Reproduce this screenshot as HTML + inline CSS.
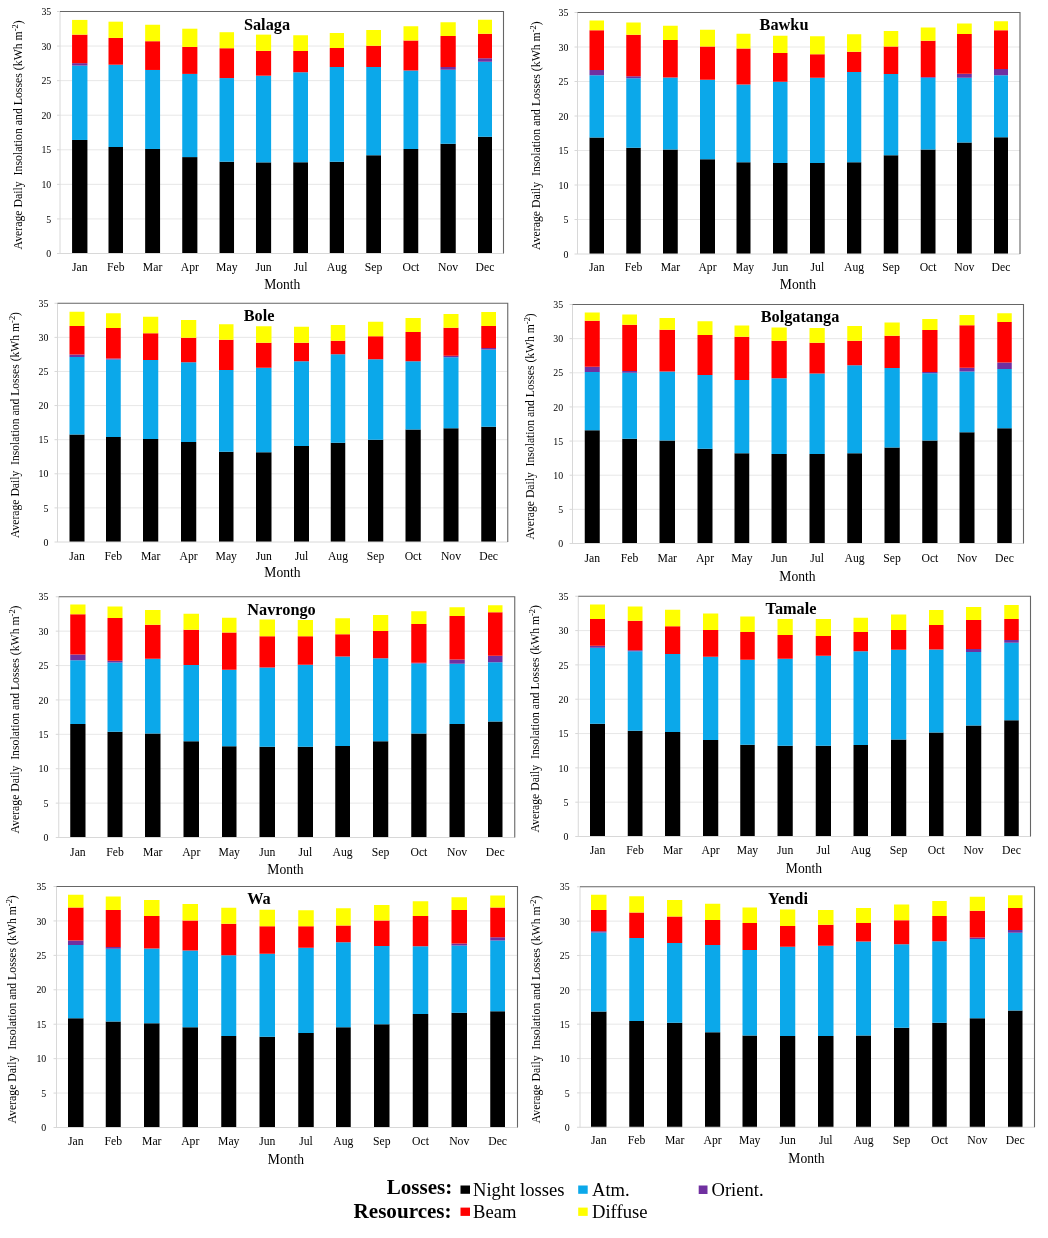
<!DOCTYPE html>
<html lang="en"><head><meta charset="utf-8"><title>Average Daily Insolation and Losses</title>
<style>
html,body{margin:0;padding:0;background:#fff}
body{width:1048px;height:1238px;overflow:hidden;font-family:"Liberation Serif","Times New Roman",serif}
svg{display:block}
</style></head><body>
<svg width="1048" height="1238" viewBox="0 0 1048 1238" font-family="'Liberation Serif', 'Times New Roman', serif" fill="#000">
<rect width="1048" height="1238" fill="#fff"/>
<g>
<line x1="60" y1="218.93" x2="503.5" y2="218.93" stroke="#E4E4E4" stroke-width="0.9"/>
<line x1="60" y1="184.36" x2="503.5" y2="184.36" stroke="#E4E4E4" stroke-width="0.9"/>
<line x1="60" y1="149.79" x2="503.5" y2="149.79" stroke="#E4E4E4" stroke-width="0.9"/>
<line x1="60" y1="115.21" x2="503.5" y2="115.21" stroke="#E4E4E4" stroke-width="0.9"/>
<line x1="60" y1="80.64" x2="503.5" y2="80.64" stroke="#E4E4E4" stroke-width="0.9"/>
<line x1="60" y1="46.07" x2="503.5" y2="46.07" stroke="#E4E4E4" stroke-width="0.9"/>
<rect x="72.07" y="139.97" width="15.36" height="113.53" fill="#000000"/>
<rect x="72.07" y="65.57" width="15.36" height="74.4" fill="#0BA8EA"/>
<rect x="72.07" y="63.16" width="15.36" height="2.41" fill="#7030A0"/>
<rect x="72.07" y="34.63" width="15.36" height="28.53" fill="#FF0000"/>
<rect x="72.07" y="19.92" width="15.36" height="14.7" fill="#FFFF00"/>
<rect x="108.5" y="146.99" width="14.48" height="106.51" fill="#000000"/>
<rect x="108.5" y="64.69" width="14.48" height="82.3" fill="#0BA8EA"/>
<rect x="108.5" y="37.92" width="14.48" height="26.77" fill="#FF0000"/>
<rect x="108.5" y="21.68" width="14.48" height="16.24" fill="#FFFF00"/>
<rect x="145.15" y="148.97" width="14.92" height="104.53" fill="#000000"/>
<rect x="145.15" y="69.96" width="14.92" height="79.01" fill="#0BA8EA"/>
<rect x="145.15" y="41.21" width="14.92" height="28.75" fill="#FF0000"/>
<rect x="145.15" y="24.75" width="14.92" height="16.46" fill="#FFFF00"/>
<rect x="182.24" y="157.09" width="15.14" height="96.41" fill="#000000"/>
<rect x="182.24" y="73.91" width="15.14" height="83.18" fill="#0BA8EA"/>
<rect x="182.24" y="46.92" width="15.14" height="26.99" fill="#FF0000"/>
<rect x="182.24" y="28.7" width="15.14" height="18.22" fill="#FFFF00"/>
<rect x="219.55" y="161.7" width="14.48" height="91.8" fill="#000000"/>
<rect x="219.55" y="78.08" width="14.48" height="83.62" fill="#0BA8EA"/>
<rect x="219.55" y="48.23" width="14.48" height="29.85" fill="#FF0000"/>
<rect x="219.55" y="32.21" width="14.48" height="16.02" fill="#FFFF00"/>
<rect x="255.98" y="162.36" width="15.14" height="91.14" fill="#000000"/>
<rect x="255.98" y="75.67" width="15.14" height="86.69" fill="#0BA8EA"/>
<rect x="255.98" y="50.87" width="15.14" height="24.8" fill="#FF0000"/>
<rect x="255.98" y="34.63" width="15.14" height="16.24" fill="#FFFF00"/>
<rect x="293.25" y="162.25" width="14.75" height="91.25" fill="#000000"/>
<rect x="293.25" y="72.25" width="14.75" height="90" fill="#0BA8EA"/>
<rect x="293.25" y="51" width="14.75" height="21.25" fill="#FF0000"/>
<rect x="293.25" y="35.25" width="14.75" height="15.75" fill="#FFFF00"/>
<rect x="329.75" y="161.75" width="14.25" height="91.75" fill="#000000"/>
<rect x="329.75" y="67" width="14.25" height="94.75" fill="#0BA8EA"/>
<rect x="329.75" y="48" width="14.25" height="19" fill="#FF0000"/>
<rect x="329.75" y="33" width="14.25" height="15" fill="#FFFF00"/>
<rect x="366.25" y="155.25" width="14.75" height="98.25" fill="#000000"/>
<rect x="366.25" y="67" width="14.75" height="88.25" fill="#0BA8EA"/>
<rect x="366.25" y="45.75" width="14.75" height="21.25" fill="#FF0000"/>
<rect x="366.25" y="30" width="14.75" height="15.75" fill="#FFFF00"/>
<rect x="403.5" y="149" width="14.75" height="104.5" fill="#000000"/>
<rect x="403.5" y="70.5" width="14.75" height="78.5" fill="#0BA8EA"/>
<rect x="403.5" y="40.5" width="14.75" height="30" fill="#FF0000"/>
<rect x="403.5" y="26.25" width="14.75" height="14.25" fill="#FFFF00"/>
<rect x="440.5" y="143.75" width="15.25" height="109.75" fill="#000000"/>
<rect x="440.5" y="69.75" width="15.25" height="74" fill="#0BA8EA"/>
<rect x="440.5" y="67" width="15.25" height="2.75" fill="#7030A0"/>
<rect x="440.5" y="36" width="15.25" height="31" fill="#FF0000"/>
<rect x="440.5" y="22.25" width="15.25" height="13.75" fill="#FFFF00"/>
<rect x="478" y="136.75" width="14" height="116.75" fill="#000000"/>
<rect x="478" y="61.75" width="14" height="75" fill="#0BA8EA"/>
<rect x="478" y="58.25" width="14" height="3.5" fill="#7030A0"/>
<rect x="478" y="33.75" width="14" height="24.5" fill="#FF0000"/>
<rect x="478" y="19.75" width="14" height="14" fill="#FFFF00"/>
<line x1="57" y1="253.5" x2="503.5" y2="253.5" stroke="#D8D8D8" stroke-width="1"/>
<line x1="60" y1="11.5" x2="60" y2="253.5" stroke="#D8D8D8" stroke-width="1"/>
<line x1="57" y1="218.93" x2="60" y2="218.93" stroke="#D8D8D8" stroke-width="1"/>
<line x1="57" y1="184.36" x2="60" y2="184.36" stroke="#D8D8D8" stroke-width="1"/>
<line x1="57" y1="149.79" x2="60" y2="149.79" stroke="#D8D8D8" stroke-width="1"/>
<line x1="57" y1="115.21" x2="60" y2="115.21" stroke="#D8D8D8" stroke-width="1"/>
<line x1="57" y1="80.64" x2="60" y2="80.64" stroke="#D8D8D8" stroke-width="1"/>
<line x1="57" y1="46.07" x2="60" y2="46.07" stroke="#D8D8D8" stroke-width="1"/>
<line x1="57" y1="11.5" x2="60" y2="11.5" stroke="#D8D8D8" stroke-width="1"/>
<path d="M60 11.5H503.5V253.5" fill="none" stroke="#666666" stroke-width="1.1"/>
<text x="51.3" y="257.2" font-size="9.9" text-anchor="end">0</text>
<text x="51.3" y="222.63" font-size="9.9" text-anchor="end">5</text>
<text x="51.3" y="188.06" font-size="9.9" text-anchor="end">10</text>
<text x="51.3" y="153.49" font-size="9.9" text-anchor="end">15</text>
<text x="51.3" y="118.91" font-size="9.9" text-anchor="end">20</text>
<text x="51.3" y="84.34" font-size="9.9" text-anchor="end">25</text>
<text x="51.3" y="49.77" font-size="9.9" text-anchor="end">30</text>
<text x="51.3" y="15.2" font-size="9.9" text-anchor="end">35</text>
<text x="79.75" y="271" font-size="11.7" text-anchor="middle">Jan</text>
<text x="115.74" y="271" font-size="11.7" text-anchor="middle">Feb</text>
<text x="152.61" y="271" font-size="11.7" text-anchor="middle">Mar</text>
<text x="189.81" y="271" font-size="11.7" text-anchor="middle">Apr</text>
<text x="226.79" y="271" font-size="11.7" text-anchor="middle">May</text>
<text x="263.55" y="271" font-size="11.7" text-anchor="middle">Jun</text>
<text x="300.62" y="271" font-size="11.7" text-anchor="middle">Jul</text>
<text x="336.88" y="271" font-size="11.7" text-anchor="middle">Aug</text>
<text x="373.62" y="271" font-size="11.7" text-anchor="middle">Sep</text>
<text x="410.88" y="271" font-size="11.7" text-anchor="middle">Oct</text>
<text x="448.12" y="271" font-size="11.7" text-anchor="middle">Nov</text>
<text x="485" y="271" font-size="11.7" text-anchor="middle">Dec</text>
<text x="282.3" y="289.1" font-size="13.6" text-anchor="middle">Month</text>
<text x="267" y="29.5" font-size="16.3" font-weight="bold" text-anchor="middle">Salaga</text>
<text transform="translate(22 134.9) rotate(-90)" font-size="11.8" text-anchor="middle" xml:space="preserve">Average Daily  Insolation and Losses (kWh m<tspan font-size="8.4" dy="-4">-2</tspan><tspan dy="4">)</tspan></text>
</g>
<g>
<line x1="577.5" y1="219.5" x2="1020" y2="219.5" stroke="#E4E4E4" stroke-width="0.9"/>
<line x1="577.5" y1="185" x2="1020" y2="185" stroke="#E4E4E4" stroke-width="0.9"/>
<line x1="577.5" y1="150.5" x2="1020" y2="150.5" stroke="#E4E4E4" stroke-width="0.9"/>
<line x1="577.5" y1="116" x2="1020" y2="116" stroke="#E4E4E4" stroke-width="0.9"/>
<line x1="577.5" y1="81.5" x2="1020" y2="81.5" stroke="#E4E4E4" stroke-width="0.9"/>
<line x1="577.5" y1="47" x2="1020" y2="47" stroke="#E4E4E4" stroke-width="0.9"/>
<rect x="589.5" y="137.5" width="14.5" height="116.5" fill="#000000"/>
<rect x="589.5" y="75.25" width="14.5" height="62.25" fill="#0BA8EA"/>
<rect x="589.5" y="70" width="14.5" height="5.25" fill="#7030A0"/>
<rect x="589.5" y="30.25" width="14.5" height="39.75" fill="#FF0000"/>
<rect x="589.5" y="20.5" width="14.5" height="9.75" fill="#FFFF00"/>
<rect x="626.25" y="147.75" width="14.5" height="106.25" fill="#000000"/>
<rect x="626.25" y="78.25" width="14.5" height="69.5" fill="#0BA8EA"/>
<rect x="626.25" y="76.25" width="14.5" height="2" fill="#7030A0"/>
<rect x="626.25" y="34.75" width="14.5" height="41.5" fill="#FF0000"/>
<rect x="626.25" y="22.5" width="14.5" height="12.25" fill="#FFFF00"/>
<rect x="663" y="149.5" width="14.75" height="104.5" fill="#000000"/>
<rect x="663" y="77.5" width="14.75" height="72" fill="#0BA8EA"/>
<rect x="663" y="40" width="14.75" height="37.5" fill="#FF0000"/>
<rect x="663" y="25.75" width="14.75" height="14.25" fill="#FFFF00"/>
<rect x="700" y="159.25" width="15" height="94.75" fill="#000000"/>
<rect x="700" y="79.75" width="15" height="79.5" fill="#0BA8EA"/>
<rect x="700" y="46.5" width="15" height="33.25" fill="#FF0000"/>
<rect x="700" y="29.75" width="15" height="16.75" fill="#FFFF00"/>
<rect x="736.5" y="162.25" width="14" height="91.75" fill="#000000"/>
<rect x="736.5" y="84.5" width="14" height="77.75" fill="#0BA8EA"/>
<rect x="736.5" y="48.5" width="14" height="36" fill="#FF0000"/>
<rect x="736.5" y="33.75" width="14" height="14.75" fill="#FFFF00"/>
<rect x="773" y="163" width="14.5" height="91" fill="#000000"/>
<rect x="773" y="81.75" width="14.5" height="81.25" fill="#0BA8EA"/>
<rect x="773" y="53" width="14.5" height="28.75" fill="#FF0000"/>
<rect x="773" y="35.75" width="14.5" height="17.25" fill="#FFFF00"/>
<rect x="810" y="163" width="14.75" height="91" fill="#000000"/>
<rect x="810" y="77.75" width="14.75" height="85.25" fill="#0BA8EA"/>
<rect x="810" y="54.25" width="14.75" height="23.5" fill="#FF0000"/>
<rect x="810" y="36.25" width="14.75" height="18" fill="#FFFF00"/>
<rect x="847" y="162.25" width="14.25" height="91.75" fill="#000000"/>
<rect x="847" y="72" width="14.25" height="90.25" fill="#0BA8EA"/>
<rect x="847" y="51.75" width="14.25" height="20.25" fill="#FF0000"/>
<rect x="847" y="34.25" width="14.25" height="17.5" fill="#FFFF00"/>
<rect x="883.75" y="155.25" width="14.5" height="98.75" fill="#000000"/>
<rect x="883.75" y="74" width="14.5" height="81.25" fill="#0BA8EA"/>
<rect x="883.75" y="46.5" width="14.5" height="27.5" fill="#FF0000"/>
<rect x="883.75" y="31" width="14.5" height="15.5" fill="#FFFF00"/>
<rect x="920.75" y="149.5" width="14.75" height="104.5" fill="#000000"/>
<rect x="920.75" y="77.75" width="14.75" height="71.75" fill="#0BA8EA"/>
<rect x="920.75" y="77" width="14.75" height="0.75" fill="#7030A0"/>
<rect x="920.75" y="40.75" width="14.75" height="36.25" fill="#FF0000"/>
<rect x="920.75" y="27.5" width="14.75" height="13.25" fill="#FFFF00"/>
<rect x="957" y="142.5" width="14.75" height="111.5" fill="#000000"/>
<rect x="957" y="77.75" width="14.75" height="64.75" fill="#0BA8EA"/>
<rect x="957" y="73.75" width="14.75" height="4" fill="#7030A0"/>
<rect x="957" y="34" width="14.75" height="39.75" fill="#FF0000"/>
<rect x="957" y="23.5" width="14.75" height="10.5" fill="#FFFF00"/>
<rect x="994" y="137.25" width="14" height="116.75" fill="#000000"/>
<rect x="994" y="75.25" width="14" height="62" fill="#0BA8EA"/>
<rect x="994" y="69" width="14" height="6.25" fill="#7030A0"/>
<rect x="994" y="30.25" width="14" height="38.75" fill="#FF0000"/>
<rect x="994" y="21.25" width="14" height="9" fill="#FFFF00"/>
<line x1="574.5" y1="254" x2="1020" y2="254" stroke="#D8D8D8" stroke-width="1"/>
<line x1="577.5" y1="12.5" x2="577.5" y2="254" stroke="#D8D8D8" stroke-width="1"/>
<line x1="574.5" y1="219.5" x2="577.5" y2="219.5" stroke="#D8D8D8" stroke-width="1"/>
<line x1="574.5" y1="185" x2="577.5" y2="185" stroke="#D8D8D8" stroke-width="1"/>
<line x1="574.5" y1="150.5" x2="577.5" y2="150.5" stroke="#D8D8D8" stroke-width="1"/>
<line x1="574.5" y1="116" x2="577.5" y2="116" stroke="#D8D8D8" stroke-width="1"/>
<line x1="574.5" y1="81.5" x2="577.5" y2="81.5" stroke="#D8D8D8" stroke-width="1"/>
<line x1="574.5" y1="47" x2="577.5" y2="47" stroke="#D8D8D8" stroke-width="1"/>
<line x1="574.5" y1="12.5" x2="577.5" y2="12.5" stroke="#D8D8D8" stroke-width="1"/>
<path d="M577.5 12.5H1020V254" fill="none" stroke="#666666" stroke-width="1.1"/>
<text x="568.4" y="257.7" font-size="9.9" text-anchor="end">0</text>
<text x="568.4" y="223.2" font-size="9.9" text-anchor="end">5</text>
<text x="568.4" y="188.7" font-size="9.9" text-anchor="end">10</text>
<text x="568.4" y="154.2" font-size="9.9" text-anchor="end">15</text>
<text x="568.4" y="119.7" font-size="9.9" text-anchor="end">20</text>
<text x="568.4" y="85.2" font-size="9.9" text-anchor="end">25</text>
<text x="568.4" y="50.7" font-size="9.9" text-anchor="end">30</text>
<text x="568.4" y="16.2" font-size="9.9" text-anchor="end">35</text>
<text x="596.75" y="271" font-size="11.7" text-anchor="middle">Jan</text>
<text x="633.5" y="271" font-size="11.7" text-anchor="middle">Feb</text>
<text x="670.38" y="271" font-size="11.7" text-anchor="middle">Mar</text>
<text x="707.5" y="271" font-size="11.7" text-anchor="middle">Apr</text>
<text x="743.5" y="271" font-size="11.7" text-anchor="middle">May</text>
<text x="780.25" y="271" font-size="11.7" text-anchor="middle">Jun</text>
<text x="817.38" y="271" font-size="11.7" text-anchor="middle">Jul</text>
<text x="854.12" y="271" font-size="11.7" text-anchor="middle">Aug</text>
<text x="891" y="271" font-size="11.7" text-anchor="middle">Sep</text>
<text x="928.12" y="271" font-size="11.7" text-anchor="middle">Oct</text>
<text x="964.38" y="271" font-size="11.7" text-anchor="middle">Nov</text>
<text x="1001" y="271" font-size="11.7" text-anchor="middle">Dec</text>
<text x="798" y="289.1" font-size="13.6" text-anchor="middle">Month</text>
<text x="784" y="30" font-size="16.3" font-weight="bold" text-anchor="middle">Bawku</text>
<text transform="translate(539.5 135.65) rotate(-90)" font-size="11.78" text-anchor="middle" xml:space="preserve">Average Daily  Insolation and Losses (kWh m<tspan font-size="8.4" dy="-4">-2</tspan><tspan dy="4">)</tspan></text>
</g>
<g>
<line x1="57.5" y1="507.89" x2="507.75" y2="507.89" stroke="#E4E4E4" stroke-width="0.9"/>
<line x1="57.5" y1="473.79" x2="507.75" y2="473.79" stroke="#E4E4E4" stroke-width="0.9"/>
<line x1="57.5" y1="439.68" x2="507.75" y2="439.68" stroke="#E4E4E4" stroke-width="0.9"/>
<line x1="57.5" y1="405.57" x2="507.75" y2="405.57" stroke="#E4E4E4" stroke-width="0.9"/>
<line x1="57.5" y1="371.46" x2="507.75" y2="371.46" stroke="#E4E4E4" stroke-width="0.9"/>
<line x1="57.5" y1="337.36" x2="507.75" y2="337.36" stroke="#E4E4E4" stroke-width="0.9"/>
<rect x="69.5" y="434.5" width="15" height="107.5" fill="#000000"/>
<rect x="69.5" y="357" width="15" height="77.5" fill="#0BA8EA"/>
<rect x="69.5" y="354.5" width="15" height="2.5" fill="#7030A0"/>
<rect x="69.5" y="326" width="15" height="28.5" fill="#FF0000"/>
<rect x="69.5" y="311.75" width="15" height="14.25" fill="#FFFF00"/>
<rect x="106" y="437" width="14.75" height="105" fill="#000000"/>
<rect x="106" y="359.5" width="14.75" height="77.5" fill="#0BA8EA"/>
<rect x="106" y="358.5" width="14.75" height="1" fill="#7030A0"/>
<rect x="106" y="328" width="14.75" height="30.5" fill="#FF0000"/>
<rect x="106" y="313.25" width="14.75" height="14.75" fill="#FFFF00"/>
<rect x="143" y="439" width="15.25" height="103" fill="#000000"/>
<rect x="143" y="360" width="15.25" height="79" fill="#0BA8EA"/>
<rect x="143" y="333.25" width="15.25" height="26.75" fill="#FF0000"/>
<rect x="143" y="316.75" width="15.25" height="16.5" fill="#FFFF00"/>
<rect x="181" y="442" width="15.25" height="100" fill="#000000"/>
<rect x="181" y="362.25" width="15.25" height="79.75" fill="#0BA8EA"/>
<rect x="181" y="337.75" width="15.25" height="24.5" fill="#FF0000"/>
<rect x="181" y="320" width="15.25" height="17.75" fill="#FFFF00"/>
<rect x="219" y="451.75" width="14.5" height="90.25" fill="#000000"/>
<rect x="219" y="370" width="14.5" height="81.75" fill="#0BA8EA"/>
<rect x="219" y="339.75" width="14.5" height="30.25" fill="#FF0000"/>
<rect x="219" y="324.25" width="14.5" height="15.5" fill="#FFFF00"/>
<rect x="256" y="452.25" width="15.5" height="89.75" fill="#000000"/>
<rect x="256" y="367.75" width="15.5" height="84.5" fill="#0BA8EA"/>
<rect x="256" y="342.75" width="15.5" height="25" fill="#FF0000"/>
<rect x="256" y="326.25" width="15.5" height="16.5" fill="#FFFF00"/>
<rect x="294" y="446" width="15" height="96" fill="#000000"/>
<rect x="294" y="361.25" width="15" height="84.75" fill="#0BA8EA"/>
<rect x="294" y="342.75" width="15" height="18.5" fill="#FF0000"/>
<rect x="294" y="326.75" width="15" height="16" fill="#FFFF00"/>
<rect x="330.75" y="442.75" width="14.5" height="99.25" fill="#000000"/>
<rect x="330.75" y="354.25" width="14.5" height="88.5" fill="#0BA8EA"/>
<rect x="330.75" y="340.75" width="14.5" height="13.5" fill="#FF0000"/>
<rect x="330.75" y="325" width="14.5" height="15.75" fill="#FFFF00"/>
<rect x="368" y="439.75" width="15.25" height="102.25" fill="#000000"/>
<rect x="368" y="359.25" width="15.25" height="80.5" fill="#0BA8EA"/>
<rect x="368" y="336.25" width="15.25" height="23" fill="#FF0000"/>
<rect x="368" y="321.75" width="15.25" height="14.5" fill="#FFFF00"/>
<rect x="405.5" y="429.5" width="15.25" height="112.5" fill="#000000"/>
<rect x="405.5" y="361.25" width="15.25" height="68.25" fill="#0BA8EA"/>
<rect x="405.5" y="332" width="15.25" height="29.25" fill="#FF0000"/>
<rect x="405.5" y="318" width="15.25" height="14" fill="#FFFF00"/>
<rect x="443.5" y="428.25" width="15" height="113.75" fill="#000000"/>
<rect x="443.5" y="357.25" width="15" height="71" fill="#0BA8EA"/>
<rect x="443.5" y="355.75" width="15" height="1.5" fill="#7030A0"/>
<rect x="443.5" y="327.75" width="15" height="28" fill="#FF0000"/>
<rect x="443.5" y="314" width="15" height="13.75" fill="#FFFF00"/>
<rect x="481.25" y="426.75" width="14.75" height="115.25" fill="#000000"/>
<rect x="481.25" y="349.5" width="14.75" height="77.25" fill="#0BA8EA"/>
<rect x="481.25" y="348" width="14.75" height="1.5" fill="#7030A0"/>
<rect x="481.25" y="326" width="14.75" height="22" fill="#FF0000"/>
<rect x="481.25" y="312" width="14.75" height="14" fill="#FFFF00"/>
<line x1="54.5" y1="542" x2="507.75" y2="542" stroke="#D8D8D8" stroke-width="1"/>
<line x1="57.5" y1="303.25" x2="57.5" y2="542" stroke="#D8D8D8" stroke-width="1"/>
<line x1="54.5" y1="507.89" x2="57.5" y2="507.89" stroke="#D8D8D8" stroke-width="1"/>
<line x1="54.5" y1="473.79" x2="57.5" y2="473.79" stroke="#D8D8D8" stroke-width="1"/>
<line x1="54.5" y1="439.68" x2="57.5" y2="439.68" stroke="#D8D8D8" stroke-width="1"/>
<line x1="54.5" y1="405.57" x2="57.5" y2="405.57" stroke="#D8D8D8" stroke-width="1"/>
<line x1="54.5" y1="371.46" x2="57.5" y2="371.46" stroke="#D8D8D8" stroke-width="1"/>
<line x1="54.5" y1="337.36" x2="57.5" y2="337.36" stroke="#D8D8D8" stroke-width="1"/>
<line x1="54.5" y1="303.25" x2="57.5" y2="303.25" stroke="#D8D8D8" stroke-width="1"/>
<path d="M57.5 303.25H507.75V542" fill="none" stroke="#666666" stroke-width="1.1"/>
<text x="48.4" y="545.7" font-size="9.9" text-anchor="end">0</text>
<text x="48.4" y="511.59" font-size="9.9" text-anchor="end">5</text>
<text x="48.4" y="477.49" font-size="9.9" text-anchor="end">10</text>
<text x="48.4" y="443.38" font-size="9.9" text-anchor="end">15</text>
<text x="48.4" y="409.27" font-size="9.9" text-anchor="end">20</text>
<text x="48.4" y="375.16" font-size="9.9" text-anchor="end">25</text>
<text x="48.4" y="341.06" font-size="9.9" text-anchor="end">30</text>
<text x="48.4" y="306.95" font-size="9.9" text-anchor="end">35</text>
<text x="77" y="560" font-size="11.7" text-anchor="middle">Jan</text>
<text x="113.38" y="560" font-size="11.7" text-anchor="middle">Feb</text>
<text x="150.62" y="560" font-size="11.7" text-anchor="middle">Mar</text>
<text x="188.62" y="560" font-size="11.7" text-anchor="middle">Apr</text>
<text x="226.25" y="560" font-size="11.7" text-anchor="middle">May</text>
<text x="263.75" y="560" font-size="11.7" text-anchor="middle">Jun</text>
<text x="301.5" y="560" font-size="11.7" text-anchor="middle">Jul</text>
<text x="338" y="560" font-size="11.7" text-anchor="middle">Aug</text>
<text x="375.62" y="560" font-size="11.7" text-anchor="middle">Sep</text>
<text x="413.12" y="560" font-size="11.7" text-anchor="middle">Oct</text>
<text x="451" y="560" font-size="11.7" text-anchor="middle">Nov</text>
<text x="488.62" y="560" font-size="11.7" text-anchor="middle">Dec</text>
<text x="282.5" y="576.6" font-size="13.6" text-anchor="middle">Month</text>
<text x="259" y="321" font-size="16.3" font-weight="bold" text-anchor="middle">Bole</text>
<text transform="translate(18.5 425.02) rotate(-90)" font-size="11.64" text-anchor="middle" xml:space="preserve">Average Daily  Insolation and Losses (kWh m<tspan font-size="8.4" dy="-4">-2</tspan><tspan dy="4">)</tspan></text>
</g>
<g>
<line x1="572.5" y1="509.36" x2="1023.5" y2="509.36" stroke="#E4E4E4" stroke-width="0.9"/>
<line x1="572.5" y1="475.21" x2="1023.5" y2="475.21" stroke="#E4E4E4" stroke-width="0.9"/>
<line x1="572.5" y1="441.07" x2="1023.5" y2="441.07" stroke="#E4E4E4" stroke-width="0.9"/>
<line x1="572.5" y1="406.93" x2="1023.5" y2="406.93" stroke="#E4E4E4" stroke-width="0.9"/>
<line x1="572.5" y1="372.79" x2="1023.5" y2="372.79" stroke="#E4E4E4" stroke-width="0.9"/>
<line x1="572.5" y1="338.64" x2="1023.5" y2="338.64" stroke="#E4E4E4" stroke-width="0.9"/>
<rect x="584.75" y="430.25" width="15" height="113.25" fill="#000000"/>
<rect x="584.75" y="372" width="15" height="58.25" fill="#0BA8EA"/>
<rect x="584.75" y="366.75" width="15" height="5.25" fill="#7030A0"/>
<rect x="584.75" y="320.75" width="15" height="46" fill="#FF0000"/>
<rect x="584.75" y="312.5" width="15" height="8.25" fill="#FFFF00"/>
<rect x="622.25" y="438.75" width="14.75" height="104.75" fill="#000000"/>
<rect x="622.25" y="372.75" width="14.75" height="66" fill="#0BA8EA"/>
<rect x="622.25" y="371" width="14.75" height="1.75" fill="#7030A0"/>
<rect x="622.25" y="324.75" width="14.75" height="46.25" fill="#FF0000"/>
<rect x="622.25" y="314.5" width="14.75" height="10.25" fill="#FFFF00"/>
<rect x="659.5" y="440.5" width="15.5" height="103" fill="#000000"/>
<rect x="659.5" y="371.5" width="15.5" height="69" fill="#0BA8EA"/>
<rect x="659.5" y="329.75" width="15.5" height="41.75" fill="#FF0000"/>
<rect x="659.5" y="318" width="15.5" height="11.75" fill="#FFFF00"/>
<rect x="697.5" y="448.75" width="15" height="94.75" fill="#000000"/>
<rect x="697.5" y="375" width="15" height="73.75" fill="#0BA8EA"/>
<rect x="697.5" y="335" width="15" height="40" fill="#FF0000"/>
<rect x="697.5" y="321.25" width="15" height="13.75" fill="#FFFF00"/>
<rect x="734.5" y="453.25" width="14.75" height="90.25" fill="#000000"/>
<rect x="734.5" y="380" width="14.75" height="73.25" fill="#0BA8EA"/>
<rect x="734.5" y="336.75" width="14.75" height="43.25" fill="#FF0000"/>
<rect x="734.5" y="325.5" width="14.75" height="11.25" fill="#FFFF00"/>
<rect x="771.5" y="454" width="15.25" height="89.5" fill="#000000"/>
<rect x="771.5" y="378.25" width="15.25" height="75.75" fill="#0BA8EA"/>
<rect x="771.5" y="340.75" width="15.25" height="37.5" fill="#FF0000"/>
<rect x="771.5" y="327.5" width="15.25" height="13.25" fill="#FFFF00"/>
<rect x="809.5" y="454" width="15.25" height="89.5" fill="#000000"/>
<rect x="809.5" y="373.5" width="15.25" height="80.5" fill="#0BA8EA"/>
<rect x="809.5" y="342.75" width="15.25" height="30.75" fill="#FF0000"/>
<rect x="809.5" y="328" width="15.25" height="14.75" fill="#FFFF00"/>
<rect x="847.25" y="453.25" width="14.75" height="90.25" fill="#000000"/>
<rect x="847.25" y="365.25" width="14.75" height="88" fill="#0BA8EA"/>
<rect x="847.25" y="340.75" width="14.75" height="24.5" fill="#FF0000"/>
<rect x="847.25" y="326" width="14.75" height="14.75" fill="#FFFF00"/>
<rect x="884.5" y="447.5" width="15.25" height="96" fill="#000000"/>
<rect x="884.5" y="368" width="15.25" height="79.5" fill="#0BA8EA"/>
<rect x="884.5" y="335.75" width="15.25" height="32.25" fill="#FF0000"/>
<rect x="884.5" y="322.5" width="15.25" height="13.25" fill="#FFFF00"/>
<rect x="922.25" y="440.5" width="15.25" height="103" fill="#000000"/>
<rect x="922.25" y="373.25" width="15.25" height="67.25" fill="#0BA8EA"/>
<rect x="922.25" y="372" width="15.25" height="1.25" fill="#7030A0"/>
<rect x="922.25" y="330" width="15.25" height="42" fill="#FF0000"/>
<rect x="922.25" y="319" width="15.25" height="11" fill="#FFFF00"/>
<rect x="959.5" y="432.25" width="15" height="111.25" fill="#000000"/>
<rect x="959.5" y="371.5" width="15" height="60.75" fill="#0BA8EA"/>
<rect x="959.5" y="367.75" width="15" height="3.75" fill="#7030A0"/>
<rect x="959.5" y="325.25" width="15" height="42.5" fill="#FF0000"/>
<rect x="959.5" y="315" width="15" height="10.25" fill="#FFFF00"/>
<rect x="997.25" y="428.25" width="14.5" height="115.25" fill="#000000"/>
<rect x="997.25" y="369" width="14.5" height="59.25" fill="#0BA8EA"/>
<rect x="997.25" y="362.5" width="14.5" height="6.5" fill="#7030A0"/>
<rect x="997.25" y="322" width="14.5" height="40.5" fill="#FF0000"/>
<rect x="997.25" y="313.25" width="14.5" height="8.75" fill="#FFFF00"/>
<line x1="569.5" y1="543.5" x2="1023.5" y2="543.5" stroke="#D8D8D8" stroke-width="1"/>
<line x1="572.5" y1="304.5" x2="572.5" y2="543.5" stroke="#D8D8D8" stroke-width="1"/>
<line x1="569.5" y1="509.36" x2="572.5" y2="509.36" stroke="#D8D8D8" stroke-width="1"/>
<line x1="569.5" y1="475.21" x2="572.5" y2="475.21" stroke="#D8D8D8" stroke-width="1"/>
<line x1="569.5" y1="441.07" x2="572.5" y2="441.07" stroke="#D8D8D8" stroke-width="1"/>
<line x1="569.5" y1="406.93" x2="572.5" y2="406.93" stroke="#D8D8D8" stroke-width="1"/>
<line x1="569.5" y1="372.79" x2="572.5" y2="372.79" stroke="#D8D8D8" stroke-width="1"/>
<line x1="569.5" y1="338.64" x2="572.5" y2="338.64" stroke="#D8D8D8" stroke-width="1"/>
<line x1="569.5" y1="304.5" x2="572.5" y2="304.5" stroke="#D8D8D8" stroke-width="1"/>
<path d="M572.5 304.5H1023.5V543.5" fill="none" stroke="#666666" stroke-width="1.1"/>
<text x="563.2" y="547.2" font-size="9.9" text-anchor="end">0</text>
<text x="563.2" y="513.06" font-size="9.9" text-anchor="end">5</text>
<text x="563.2" y="478.91" font-size="9.9" text-anchor="end">10</text>
<text x="563.2" y="444.77" font-size="9.9" text-anchor="end">15</text>
<text x="563.2" y="410.63" font-size="9.9" text-anchor="end">20</text>
<text x="563.2" y="376.49" font-size="9.9" text-anchor="end">25</text>
<text x="563.2" y="342.34" font-size="9.9" text-anchor="end">30</text>
<text x="563.2" y="308.2" font-size="9.9" text-anchor="end">35</text>
<text x="592.25" y="562" font-size="11.7" text-anchor="middle">Jan</text>
<text x="629.62" y="562" font-size="11.7" text-anchor="middle">Feb</text>
<text x="667.25" y="562" font-size="11.7" text-anchor="middle">Mar</text>
<text x="705" y="562" font-size="11.7" text-anchor="middle">Apr</text>
<text x="741.88" y="562" font-size="11.7" text-anchor="middle">May</text>
<text x="779.12" y="562" font-size="11.7" text-anchor="middle">Jun</text>
<text x="817.12" y="562" font-size="11.7" text-anchor="middle">Jul</text>
<text x="854.62" y="562" font-size="11.7" text-anchor="middle">Aug</text>
<text x="892.12" y="562" font-size="11.7" text-anchor="middle">Sep</text>
<text x="929.88" y="562" font-size="11.7" text-anchor="middle">Oct</text>
<text x="967" y="562" font-size="11.7" text-anchor="middle">Nov</text>
<text x="1004.5" y="562" font-size="11.7" text-anchor="middle">Dec</text>
<text x="797.5" y="580.5" font-size="13.6" text-anchor="middle">Month</text>
<text x="800" y="322" font-size="16.3" font-weight="bold" text-anchor="middle">Bolgatanga</text>
<text transform="translate(534 426.4) rotate(-90)" font-size="11.65" text-anchor="middle" xml:space="preserve">Average Daily  Insolation and Losses (kWh m<tspan font-size="8.4" dy="-4">-2</tspan><tspan dy="4">)</tspan></text>
</g>
<g>
<line x1="58.75" y1="803.11" x2="514.75" y2="803.11" stroke="#E4E4E4" stroke-width="0.9"/>
<line x1="58.75" y1="768.71" x2="514.75" y2="768.71" stroke="#E4E4E4" stroke-width="0.9"/>
<line x1="58.75" y1="734.32" x2="514.75" y2="734.32" stroke="#E4E4E4" stroke-width="0.9"/>
<line x1="58.75" y1="699.93" x2="514.75" y2="699.93" stroke="#E4E4E4" stroke-width="0.9"/>
<line x1="58.75" y1="665.54" x2="514.75" y2="665.54" stroke="#E4E4E4" stroke-width="0.9"/>
<line x1="58.75" y1="631.14" x2="514.75" y2="631.14" stroke="#E4E4E4" stroke-width="0.9"/>
<rect x="70.25" y="724" width="15.25" height="113.5" fill="#000000"/>
<rect x="70.25" y="660.25" width="15.25" height="63.75" fill="#0BA8EA"/>
<rect x="70.25" y="654.5" width="15.25" height="5.75" fill="#7030A0"/>
<rect x="70.25" y="614.25" width="15.25" height="40.25" fill="#FF0000"/>
<rect x="70.25" y="604.5" width="15.25" height="9.75" fill="#FFFF00"/>
<rect x="107.5" y="731.75" width="15" height="105.75" fill="#000000"/>
<rect x="107.5" y="662.5" width="15" height="69.25" fill="#0BA8EA"/>
<rect x="107.5" y="660.75" width="15" height="1.75" fill="#7030A0"/>
<rect x="107.5" y="618" width="15" height="42.75" fill="#FF0000"/>
<rect x="107.5" y="606.5" width="15" height="11.5" fill="#FFFF00"/>
<rect x="145" y="733.5" width="15.5" height="104" fill="#000000"/>
<rect x="145" y="658.75" width="15.5" height="74.75" fill="#0BA8EA"/>
<rect x="145" y="624.75" width="15.5" height="34" fill="#FF0000"/>
<rect x="145" y="610" width="15.5" height="14.75" fill="#FFFF00"/>
<rect x="183.5" y="741.25" width="15.5" height="96.25" fill="#000000"/>
<rect x="183.5" y="665" width="15.5" height="76.25" fill="#0BA8EA"/>
<rect x="183.5" y="629.75" width="15.5" height="35.25" fill="#FF0000"/>
<rect x="183.5" y="613.75" width="15.5" height="16" fill="#FFFF00"/>
<rect x="222" y="746.25" width="14.5" height="91.25" fill="#000000"/>
<rect x="222" y="669.75" width="14.5" height="76.5" fill="#0BA8EA"/>
<rect x="222" y="632.5" width="14.5" height="37.25" fill="#FF0000"/>
<rect x="222" y="617.75" width="14.5" height="14.75" fill="#FFFF00"/>
<rect x="259.5" y="746.75" width="15.5" height="90.75" fill="#000000"/>
<rect x="259.5" y="667.5" width="15.5" height="79.25" fill="#0BA8EA"/>
<rect x="259.5" y="636.25" width="15.5" height="31.25" fill="#FF0000"/>
<rect x="259.5" y="619.5" width="15.5" height="16.75" fill="#FFFF00"/>
<rect x="297.75" y="746.75" width="15.25" height="90.75" fill="#000000"/>
<rect x="297.75" y="664.75" width="15.25" height="82" fill="#0BA8EA"/>
<rect x="297.75" y="636.25" width="15.25" height="28.5" fill="#FF0000"/>
<rect x="297.75" y="620" width="15.25" height="16.25" fill="#FFFF00"/>
<rect x="335.25" y="746" width="14.75" height="91.5" fill="#000000"/>
<rect x="335.25" y="656.5" width="14.75" height="89.5" fill="#0BA8EA"/>
<rect x="335.25" y="634.25" width="14.75" height="22.25" fill="#FF0000"/>
<rect x="335.25" y="618.25" width="14.75" height="16" fill="#FFFF00"/>
<rect x="373" y="741.25" width="15.25" height="96.25" fill="#000000"/>
<rect x="373" y="658.25" width="15.25" height="83" fill="#0BA8EA"/>
<rect x="373" y="631" width="15.25" height="27.25" fill="#FF0000"/>
<rect x="373" y="615" width="15.25" height="16" fill="#FFFF00"/>
<rect x="411.25" y="733.5" width="15.25" height="104" fill="#000000"/>
<rect x="411.25" y="663.5" width="15.25" height="70" fill="#0BA8EA"/>
<rect x="411.25" y="662.75" width="15.25" height="0.75" fill="#7030A0"/>
<rect x="411.25" y="624" width="15.25" height="38.75" fill="#FF0000"/>
<rect x="411.25" y="611.25" width="15.25" height="12.75" fill="#FFFF00"/>
<rect x="449.5" y="724" width="15.25" height="113.5" fill="#000000"/>
<rect x="449.5" y="663.75" width="15.25" height="60.25" fill="#0BA8EA"/>
<rect x="449.5" y="659.5" width="15.25" height="4.25" fill="#7030A0"/>
<rect x="449.5" y="616" width="15.25" height="43.5" fill="#FF0000"/>
<rect x="449.5" y="607.25" width="15.25" height="8.75" fill="#FFFF00"/>
<rect x="488" y="721.5" width="14.5" height="116" fill="#000000"/>
<rect x="488" y="662.25" width="14.5" height="59.25" fill="#0BA8EA"/>
<rect x="488" y="655.75" width="14.5" height="6.5" fill="#7030A0"/>
<rect x="488" y="612.25" width="14.5" height="43.5" fill="#FF0000"/>
<rect x="488" y="605.25" width="14.5" height="7" fill="#FFFF00"/>
<line x1="55.75" y1="837.5" x2="514.75" y2="837.5" stroke="#D8D8D8" stroke-width="1"/>
<line x1="58.75" y1="596.75" x2="58.75" y2="837.5" stroke="#D8D8D8" stroke-width="1"/>
<line x1="55.75" y1="803.11" x2="58.75" y2="803.11" stroke="#D8D8D8" stroke-width="1"/>
<line x1="55.75" y1="768.71" x2="58.75" y2="768.71" stroke="#D8D8D8" stroke-width="1"/>
<line x1="55.75" y1="734.32" x2="58.75" y2="734.32" stroke="#D8D8D8" stroke-width="1"/>
<line x1="55.75" y1="699.93" x2="58.75" y2="699.93" stroke="#D8D8D8" stroke-width="1"/>
<line x1="55.75" y1="665.54" x2="58.75" y2="665.54" stroke="#D8D8D8" stroke-width="1"/>
<line x1="55.75" y1="631.14" x2="58.75" y2="631.14" stroke="#D8D8D8" stroke-width="1"/>
<line x1="55.75" y1="596.75" x2="58.75" y2="596.75" stroke="#D8D8D8" stroke-width="1"/>
<path d="M58.75 596.75H514.75V837.5" fill="none" stroke="#666666" stroke-width="1.1"/>
<text x="48.4" y="841.2" font-size="9.9" text-anchor="end">0</text>
<text x="48.4" y="806.81" font-size="9.9" text-anchor="end">5</text>
<text x="48.4" y="772.41" font-size="9.9" text-anchor="end">10</text>
<text x="48.4" y="738.02" font-size="9.9" text-anchor="end">15</text>
<text x="48.4" y="703.63" font-size="9.9" text-anchor="end">20</text>
<text x="48.4" y="669.24" font-size="9.9" text-anchor="end">25</text>
<text x="48.4" y="634.84" font-size="9.9" text-anchor="end">30</text>
<text x="48.4" y="600.45" font-size="9.9" text-anchor="end">35</text>
<text x="77.88" y="856" font-size="11.7" text-anchor="middle">Jan</text>
<text x="115" y="856" font-size="11.7" text-anchor="middle">Feb</text>
<text x="152.75" y="856" font-size="11.7" text-anchor="middle">Mar</text>
<text x="191.25" y="856" font-size="11.7" text-anchor="middle">Apr</text>
<text x="229.25" y="856" font-size="11.7" text-anchor="middle">May</text>
<text x="267.25" y="856" font-size="11.7" text-anchor="middle">Jun</text>
<text x="305.38" y="856" font-size="11.7" text-anchor="middle">Jul</text>
<text x="342.62" y="856" font-size="11.7" text-anchor="middle">Aug</text>
<text x="380.62" y="856" font-size="11.7" text-anchor="middle">Sep</text>
<text x="418.88" y="856" font-size="11.7" text-anchor="middle">Oct</text>
<text x="457.12" y="856" font-size="11.7" text-anchor="middle">Nov</text>
<text x="495.25" y="856" font-size="11.7" text-anchor="middle">Dec</text>
<text x="285.5" y="874" font-size="13.6" text-anchor="middle">Month</text>
<text x="281.5" y="615" font-size="16.3" font-weight="bold" text-anchor="middle">Navrongo</text>
<text transform="translate(19 719.52) rotate(-90)" font-size="11.74" text-anchor="middle" xml:space="preserve">Average Daily  Insolation and Losses (kWh m<tspan font-size="8.4" dy="-4">-2</tspan><tspan dy="4">)</tspan></text>
</g>
<g>
<line x1="578.25" y1="802.18" x2="1030.5" y2="802.18" stroke="#E4E4E4" stroke-width="0.9"/>
<line x1="578.25" y1="767.86" x2="1030.5" y2="767.86" stroke="#E4E4E4" stroke-width="0.9"/>
<line x1="578.25" y1="733.54" x2="1030.5" y2="733.54" stroke="#E4E4E4" stroke-width="0.9"/>
<line x1="578.25" y1="699.21" x2="1030.5" y2="699.21" stroke="#E4E4E4" stroke-width="0.9"/>
<line x1="578.25" y1="664.89" x2="1030.5" y2="664.89" stroke="#E4E4E4" stroke-width="0.9"/>
<line x1="578.25" y1="630.57" x2="1030.5" y2="630.57" stroke="#E4E4E4" stroke-width="0.9"/>
<rect x="590" y="723.75" width="15" height="112.75" fill="#000000"/>
<rect x="590" y="647.75" width="15" height="76" fill="#0BA8EA"/>
<rect x="590" y="645.75" width="15" height="2" fill="#7030A0"/>
<rect x="590" y="619" width="15" height="26.75" fill="#FF0000"/>
<rect x="590" y="604.5" width="15" height="14.5" fill="#FFFF00"/>
<rect x="627.75" y="730.75" width="14.75" height="105.75" fill="#000000"/>
<rect x="627.75" y="651.25" width="14.75" height="79.5" fill="#0BA8EA"/>
<rect x="627.75" y="650.25" width="14.75" height="1" fill="#7030A0"/>
<rect x="627.75" y="620.75" width="14.75" height="29.5" fill="#FF0000"/>
<rect x="627.75" y="606.5" width="14.75" height="14.25" fill="#FFFF00"/>
<rect x="665" y="732" width="15.25" height="104.5" fill="#000000"/>
<rect x="665" y="654" width="15.25" height="78" fill="#0BA8EA"/>
<rect x="665" y="626.25" width="15.25" height="27.75" fill="#FF0000"/>
<rect x="665" y="609.75" width="15.25" height="16.5" fill="#FFFF00"/>
<rect x="703" y="740" width="15.25" height="96.5" fill="#000000"/>
<rect x="703" y="656.75" width="15.25" height="83.25" fill="#0BA8EA"/>
<rect x="703" y="630" width="15.25" height="26.75" fill="#FF0000"/>
<rect x="703" y="613.5" width="15.25" height="16.5" fill="#FFFF00"/>
<rect x="740.25" y="744.75" width="14.5" height="91.75" fill="#000000"/>
<rect x="740.25" y="659.75" width="14.5" height="85" fill="#0BA8EA"/>
<rect x="740.25" y="632" width="14.5" height="27.75" fill="#FF0000"/>
<rect x="740.25" y="616.5" width="14.5" height="15.5" fill="#FFFF00"/>
<rect x="777.5" y="745.75" width="15.25" height="90.75" fill="#000000"/>
<rect x="777.5" y="658.75" width="15.25" height="87" fill="#0BA8EA"/>
<rect x="777.5" y="635" width="15.25" height="23.75" fill="#FF0000"/>
<rect x="777.5" y="619" width="15.25" height="16" fill="#FFFF00"/>
<rect x="815.75" y="745.75" width="15.25" height="90.75" fill="#000000"/>
<rect x="815.75" y="655.75" width="15.25" height="90" fill="#0BA8EA"/>
<rect x="815.75" y="636" width="15.25" height="19.75" fill="#FF0000"/>
<rect x="815.75" y="619" width="15.25" height="17" fill="#FFFF00"/>
<rect x="853.5" y="745" width="14.5" height="91.5" fill="#000000"/>
<rect x="853.5" y="651.25" width="14.5" height="93.75" fill="#0BA8EA"/>
<rect x="853.5" y="632" width="14.5" height="19.25" fill="#FF0000"/>
<rect x="853.5" y="617.75" width="14.5" height="14.25" fill="#FFFF00"/>
<rect x="891" y="739.5" width="15.25" height="97" fill="#000000"/>
<rect x="891" y="649.75" width="15.25" height="89.75" fill="#0BA8EA"/>
<rect x="891" y="630" width="15.25" height="19.75" fill="#FF0000"/>
<rect x="891" y="614.5" width="15.25" height="15.5" fill="#FFFF00"/>
<rect x="929" y="732.5" width="14.5" height="104" fill="#000000"/>
<rect x="929" y="649.5" width="14.5" height="83" fill="#0BA8EA"/>
<rect x="929" y="625" width="14.5" height="24.5" fill="#FF0000"/>
<rect x="929" y="610" width="14.5" height="15" fill="#FFFF00"/>
<rect x="966" y="725.5" width="15.25" height="111" fill="#000000"/>
<rect x="966" y="652" width="15.25" height="73.5" fill="#0BA8EA"/>
<rect x="966" y="649" width="15.25" height="3" fill="#7030A0"/>
<rect x="966" y="620" width="15.25" height="29" fill="#FF0000"/>
<rect x="966" y="607" width="15.25" height="13" fill="#FFFF00"/>
<rect x="1004.25" y="720.25" width="14.5" height="116.25" fill="#000000"/>
<rect x="1004.25" y="642.75" width="14.5" height="77.5" fill="#0BA8EA"/>
<rect x="1004.25" y="640" width="14.5" height="2.75" fill="#7030A0"/>
<rect x="1004.25" y="619" width="14.5" height="21" fill="#FF0000"/>
<rect x="1004.25" y="605" width="14.5" height="14" fill="#FFFF00"/>
<line x1="575.25" y1="836.5" x2="1030.5" y2="836.5" stroke="#D8D8D8" stroke-width="1"/>
<line x1="578.25" y1="596.25" x2="578.25" y2="836.5" stroke="#D8D8D8" stroke-width="1"/>
<line x1="575.25" y1="802.18" x2="578.25" y2="802.18" stroke="#D8D8D8" stroke-width="1"/>
<line x1="575.25" y1="767.86" x2="578.25" y2="767.86" stroke="#D8D8D8" stroke-width="1"/>
<line x1="575.25" y1="733.54" x2="578.25" y2="733.54" stroke="#D8D8D8" stroke-width="1"/>
<line x1="575.25" y1="699.21" x2="578.25" y2="699.21" stroke="#D8D8D8" stroke-width="1"/>
<line x1="575.25" y1="664.89" x2="578.25" y2="664.89" stroke="#D8D8D8" stroke-width="1"/>
<line x1="575.25" y1="630.57" x2="578.25" y2="630.57" stroke="#D8D8D8" stroke-width="1"/>
<line x1="575.25" y1="596.25" x2="578.25" y2="596.25" stroke="#D8D8D8" stroke-width="1"/>
<path d="M578.25 596.25H1030.5V836.5" fill="none" stroke="#666666" stroke-width="1.1"/>
<text x="568.4" y="840.2" font-size="9.9" text-anchor="end">0</text>
<text x="568.4" y="805.88" font-size="9.9" text-anchor="end">5</text>
<text x="568.4" y="771.56" font-size="9.9" text-anchor="end">10</text>
<text x="568.4" y="737.24" font-size="9.9" text-anchor="end">15</text>
<text x="568.4" y="702.91" font-size="9.9" text-anchor="end">20</text>
<text x="568.4" y="668.59" font-size="9.9" text-anchor="end">25</text>
<text x="568.4" y="634.27" font-size="9.9" text-anchor="end">30</text>
<text x="568.4" y="599.95" font-size="9.9" text-anchor="end">35</text>
<text x="597.5" y="854" font-size="11.7" text-anchor="middle">Jan</text>
<text x="635.12" y="854" font-size="11.7" text-anchor="middle">Feb</text>
<text x="672.62" y="854" font-size="11.7" text-anchor="middle">Mar</text>
<text x="710.62" y="854" font-size="11.7" text-anchor="middle">Apr</text>
<text x="747.5" y="854" font-size="11.7" text-anchor="middle">May</text>
<text x="785.12" y="854" font-size="11.7" text-anchor="middle">Jun</text>
<text x="823.38" y="854" font-size="11.7" text-anchor="middle">Jul</text>
<text x="860.75" y="854" font-size="11.7" text-anchor="middle">Aug</text>
<text x="898.62" y="854" font-size="11.7" text-anchor="middle">Sep</text>
<text x="936.25" y="854" font-size="11.7" text-anchor="middle">Oct</text>
<text x="973.62" y="854" font-size="11.7" text-anchor="middle">Nov</text>
<text x="1011.5" y="854" font-size="11.7" text-anchor="middle">Dec</text>
<text x="804" y="872.5" font-size="13.6" text-anchor="middle">Month</text>
<text x="791" y="614" font-size="16.3" font-weight="bold" text-anchor="middle">Tamale</text>
<text transform="translate(539 718.77) rotate(-90)" font-size="11.71" text-anchor="middle" xml:space="preserve">Average Daily  Insolation and Losses (kWh m<tspan font-size="8.4" dy="-4">-2</tspan><tspan dy="4">)</tspan></text>
</g>
<g>
<line x1="56.5" y1="1093.07" x2="517.5" y2="1093.07" stroke="#E4E4E4" stroke-width="0.9"/>
<line x1="56.5" y1="1058.64" x2="517.5" y2="1058.64" stroke="#E4E4E4" stroke-width="0.9"/>
<line x1="56.5" y1="1024.21" x2="517.5" y2="1024.21" stroke="#E4E4E4" stroke-width="0.9"/>
<line x1="56.5" y1="989.79" x2="517.5" y2="989.79" stroke="#E4E4E4" stroke-width="0.9"/>
<line x1="56.5" y1="955.36" x2="517.5" y2="955.36" stroke="#E4E4E4" stroke-width="0.9"/>
<line x1="56.5" y1="920.93" x2="517.5" y2="920.93" stroke="#E4E4E4" stroke-width="0.9"/>
<rect x="68" y="1018.25" width="15.5" height="109.25" fill="#000000"/>
<rect x="68" y="945" width="15.5" height="73.25" fill="#0BA8EA"/>
<rect x="68" y="940.5" width="15.5" height="4.5" fill="#7030A0"/>
<rect x="68" y="907.5" width="15.5" height="33" fill="#FF0000"/>
<rect x="68" y="894.75" width="15.5" height="12.75" fill="#FFFF00"/>
<rect x="105.75" y="1021.5" width="15" height="106" fill="#000000"/>
<rect x="105.75" y="948.75" width="15" height="72.75" fill="#0BA8EA"/>
<rect x="105.75" y="947" width="15" height="1.75" fill="#7030A0"/>
<rect x="105.75" y="910" width="15" height="37" fill="#FF0000"/>
<rect x="105.75" y="896.5" width="15" height="13.5" fill="#FFFF00"/>
<rect x="144" y="1023.25" width="15.5" height="104.25" fill="#000000"/>
<rect x="144" y="948.5" width="15.5" height="74.75" fill="#0BA8EA"/>
<rect x="144" y="916" width="15.5" height="32.5" fill="#FF0000"/>
<rect x="144" y="900" width="15.5" height="16" fill="#FFFF00"/>
<rect x="182.5" y="1027.25" width="15.5" height="100.25" fill="#000000"/>
<rect x="182.5" y="950.5" width="15.5" height="76.75" fill="#0BA8EA"/>
<rect x="182.5" y="920.5" width="15.5" height="30" fill="#FF0000"/>
<rect x="182.5" y="904" width="15.5" height="16.5" fill="#FFFF00"/>
<rect x="221.25" y="1036" width="15" height="91.5" fill="#000000"/>
<rect x="221.25" y="955.25" width="15" height="80.75" fill="#0BA8EA"/>
<rect x="221.25" y="923.75" width="15" height="31.5" fill="#FF0000"/>
<rect x="221.25" y="907.75" width="15" height="16" fill="#FFFF00"/>
<rect x="259.5" y="1036.75" width="15.5" height="90.75" fill="#000000"/>
<rect x="259.5" y="953.75" width="15.5" height="83" fill="#0BA8EA"/>
<rect x="259.5" y="926.25" width="15.5" height="27.5" fill="#FF0000"/>
<rect x="259.5" y="909.75" width="15.5" height="16.5" fill="#FFFF00"/>
<rect x="298.25" y="1033" width="15.5" height="94.5" fill="#000000"/>
<rect x="298.25" y="947.75" width="15.5" height="85.25" fill="#0BA8EA"/>
<rect x="298.25" y="926.25" width="15.5" height="21.5" fill="#FF0000"/>
<rect x="298.25" y="910.25" width="15.5" height="16" fill="#FFFF00"/>
<rect x="336" y="1027.25" width="14.75" height="100.25" fill="#000000"/>
<rect x="336" y="942.25" width="14.75" height="85" fill="#0BA8EA"/>
<rect x="336" y="925.5" width="14.75" height="16.75" fill="#FF0000"/>
<rect x="336" y="908.25" width="14.75" height="17.25" fill="#FFFF00"/>
<rect x="374" y="1024.25" width="15.5" height="103.25" fill="#000000"/>
<rect x="374" y="946" width="15.5" height="78.25" fill="#0BA8EA"/>
<rect x="374" y="920.5" width="15.5" height="25.5" fill="#FF0000"/>
<rect x="374" y="905" width="15.5" height="15.5" fill="#FFFF00"/>
<rect x="412.75" y="1014" width="15.5" height="113.5" fill="#000000"/>
<rect x="412.75" y="946.25" width="15.5" height="67.75" fill="#0BA8EA"/>
<rect x="412.75" y="916" width="15.5" height="30.25" fill="#FF0000"/>
<rect x="412.75" y="901.25" width="15.5" height="14.75" fill="#FFFF00"/>
<rect x="451.5" y="1012.75" width="15.5" height="114.75" fill="#000000"/>
<rect x="451.5" y="945.5" width="15.5" height="67.25" fill="#0BA8EA"/>
<rect x="451.5" y="943.5" width="15.5" height="2" fill="#7030A0"/>
<rect x="451.5" y="910" width="15.5" height="33.5" fill="#FF0000"/>
<rect x="451.5" y="897.25" width="15.5" height="12.75" fill="#FFFF00"/>
<rect x="490.25" y="1011.25" width="14.75" height="116.25" fill="#000000"/>
<rect x="490.25" y="940.5" width="14.75" height="70.75" fill="#0BA8EA"/>
<rect x="490.25" y="937.25" width="14.75" height="3.25" fill="#7030A0"/>
<rect x="490.25" y="907.5" width="14.75" height="29.75" fill="#FF0000"/>
<rect x="490.25" y="895.5" width="14.75" height="12" fill="#FFFF00"/>
<line x1="53.5" y1="1127.5" x2="517.5" y2="1127.5" stroke="#D8D8D8" stroke-width="1"/>
<line x1="56.5" y1="886.5" x2="56.5" y2="1127.5" stroke="#D8D8D8" stroke-width="1"/>
<line x1="53.5" y1="1093.07" x2="56.5" y2="1093.07" stroke="#D8D8D8" stroke-width="1"/>
<line x1="53.5" y1="1058.64" x2="56.5" y2="1058.64" stroke="#D8D8D8" stroke-width="1"/>
<line x1="53.5" y1="1024.21" x2="56.5" y2="1024.21" stroke="#D8D8D8" stroke-width="1"/>
<line x1="53.5" y1="989.79" x2="56.5" y2="989.79" stroke="#D8D8D8" stroke-width="1"/>
<line x1="53.5" y1="955.36" x2="56.5" y2="955.36" stroke="#D8D8D8" stroke-width="1"/>
<line x1="53.5" y1="920.93" x2="56.5" y2="920.93" stroke="#D8D8D8" stroke-width="1"/>
<line x1="53.5" y1="886.5" x2="56.5" y2="886.5" stroke="#D8D8D8" stroke-width="1"/>
<path d="M56.5 886.5H517.5V1127.5" fill="none" stroke="#666666" stroke-width="1.1"/>
<text x="46.3" y="1131.2" font-size="9.9" text-anchor="end">0</text>
<text x="46.3" y="1096.77" font-size="9.9" text-anchor="end">5</text>
<text x="46.3" y="1062.34" font-size="9.9" text-anchor="end">10</text>
<text x="46.3" y="1027.91" font-size="9.9" text-anchor="end">15</text>
<text x="46.3" y="993.49" font-size="9.9" text-anchor="end">20</text>
<text x="46.3" y="959.06" font-size="9.9" text-anchor="end">25</text>
<text x="46.3" y="924.63" font-size="9.9" text-anchor="end">30</text>
<text x="46.3" y="890.2" font-size="9.9" text-anchor="end">35</text>
<text x="75.75" y="1145" font-size="11.7" text-anchor="middle">Jan</text>
<text x="113.25" y="1145" font-size="11.7" text-anchor="middle">Feb</text>
<text x="151.75" y="1145" font-size="11.7" text-anchor="middle">Mar</text>
<text x="190.25" y="1145" font-size="11.7" text-anchor="middle">Apr</text>
<text x="228.75" y="1145" font-size="11.7" text-anchor="middle">May</text>
<text x="267.25" y="1145" font-size="11.7" text-anchor="middle">Jun</text>
<text x="306" y="1145" font-size="11.7" text-anchor="middle">Jul</text>
<text x="343.38" y="1145" font-size="11.7" text-anchor="middle">Aug</text>
<text x="381.75" y="1145" font-size="11.7" text-anchor="middle">Sep</text>
<text x="420.5" y="1145" font-size="11.7" text-anchor="middle">Oct</text>
<text x="459.25" y="1145" font-size="11.7" text-anchor="middle">Nov</text>
<text x="497.62" y="1145" font-size="11.7" text-anchor="middle">Dec</text>
<text x="286" y="1163.8" font-size="13.6" text-anchor="middle">Month</text>
<text x="259" y="904" font-size="16.3" font-weight="bold" text-anchor="middle">Wa</text>
<text transform="translate(16 1009.4) rotate(-90)" font-size="11.75" text-anchor="middle" xml:space="preserve">Average Daily  Insolation and Losses (kWh m<tspan font-size="8.4" dy="-4">-2</tspan><tspan dy="4">)</tspan></text>
</g>
<g>
<line x1="580" y1="1092.89" x2="1034.5" y2="1092.89" stroke="#E4E4E4" stroke-width="0.9"/>
<line x1="580" y1="1058.54" x2="1034.5" y2="1058.54" stroke="#E4E4E4" stroke-width="0.9"/>
<line x1="580" y1="1024.18" x2="1034.5" y2="1024.18" stroke="#E4E4E4" stroke-width="0.9"/>
<line x1="580" y1="989.82" x2="1034.5" y2="989.82" stroke="#E4E4E4" stroke-width="0.9"/>
<line x1="580" y1="955.46" x2="1034.5" y2="955.46" stroke="#E4E4E4" stroke-width="0.9"/>
<line x1="580" y1="921.11" x2="1034.5" y2="921.11" stroke="#E4E4E4" stroke-width="0.9"/>
<rect x="591" y="1011.5" width="15.5" height="115.75" fill="#000000"/>
<rect x="591" y="932.5" width="15.5" height="79" fill="#0BA8EA"/>
<rect x="591" y="931.25" width="15.5" height="1.25" fill="#7030A0"/>
<rect x="591" y="910" width="15.5" height="21.25" fill="#FF0000"/>
<rect x="591" y="894.75" width="15.5" height="15.25" fill="#FFFF00"/>
<rect x="629.25" y="1021" width="14.75" height="106.25" fill="#000000"/>
<rect x="629.25" y="938" width="14.75" height="83" fill="#0BA8EA"/>
<rect x="629.25" y="912.5" width="14.75" height="25.5" fill="#FF0000"/>
<rect x="629.25" y="896.25" width="14.75" height="16.25" fill="#FFFF00"/>
<rect x="667" y="1022.75" width="15.25" height="104.5" fill="#000000"/>
<rect x="667" y="943" width="15.25" height="79.75" fill="#0BA8EA"/>
<rect x="667" y="916.5" width="15.25" height="26.5" fill="#FF0000"/>
<rect x="667" y="900" width="15.25" height="16.5" fill="#FFFF00"/>
<rect x="705" y="1032.25" width="15.25" height="95" fill="#000000"/>
<rect x="705" y="945" width="15.25" height="87.25" fill="#0BA8EA"/>
<rect x="705" y="920" width="15.25" height="25" fill="#FF0000"/>
<rect x="705" y="903.75" width="15.25" height="16.25" fill="#FFFF00"/>
<rect x="742.5" y="1035.5" width="14.5" height="91.75" fill="#000000"/>
<rect x="742.5" y="950" width="14.5" height="85.5" fill="#0BA8EA"/>
<rect x="742.5" y="923" width="14.5" height="27" fill="#FF0000"/>
<rect x="742.5" y="907.5" width="14.5" height="15.5" fill="#FFFF00"/>
<rect x="780" y="1036" width="15.25" height="91.25" fill="#000000"/>
<rect x="780" y="946.75" width="15.25" height="89.25" fill="#0BA8EA"/>
<rect x="780" y="926" width="15.25" height="20.75" fill="#FF0000"/>
<rect x="780" y="909.5" width="15.25" height="16.5" fill="#FFFF00"/>
<rect x="818" y="1036" width="15.5" height="91.25" fill="#000000"/>
<rect x="818" y="945.75" width="15.5" height="90.25" fill="#0BA8EA"/>
<rect x="818" y="924.75" width="15.5" height="21" fill="#FF0000"/>
<rect x="818" y="910" width="15.5" height="14.75" fill="#FFFF00"/>
<rect x="856" y="1035.5" width="15" height="91.75" fill="#000000"/>
<rect x="856" y="941.5" width="15" height="94" fill="#0BA8EA"/>
<rect x="856" y="923" width="15" height="18.5" fill="#FF0000"/>
<rect x="856" y="908" width="15" height="15" fill="#FFFF00"/>
<rect x="894" y="1027.75" width="15.25" height="99.5" fill="#000000"/>
<rect x="894" y="944.25" width="15.25" height="83.5" fill="#0BA8EA"/>
<rect x="894" y="920.25" width="15.25" height="24" fill="#FF0000"/>
<rect x="894" y="904.5" width="15.25" height="15.75" fill="#FFFF00"/>
<rect x="932.25" y="1022.75" width="14.5" height="104.5" fill="#000000"/>
<rect x="932.25" y="941.25" width="14.5" height="81.5" fill="#0BA8EA"/>
<rect x="932.25" y="916" width="14.5" height="25.25" fill="#FF0000"/>
<rect x="932.25" y="901" width="14.5" height="15" fill="#FFFF00"/>
<rect x="969.75" y="1018.25" width="15.25" height="109" fill="#000000"/>
<rect x="969.75" y="939" width="15.25" height="79.25" fill="#0BA8EA"/>
<rect x="969.75" y="937.5" width="15.25" height="1.5" fill="#7030A0"/>
<rect x="969.75" y="910.75" width="15.25" height="26.75" fill="#FF0000"/>
<rect x="969.75" y="896.75" width="15.25" height="14" fill="#FFFF00"/>
<rect x="1008" y="1010.5" width="14.5" height="116.75" fill="#000000"/>
<rect x="1008" y="932.75" width="14.5" height="77.75" fill="#0BA8EA"/>
<rect x="1008" y="930" width="14.5" height="2.75" fill="#7030A0"/>
<rect x="1008" y="908" width="14.5" height="22" fill="#FF0000"/>
<rect x="1008" y="895.25" width="14.5" height="12.75" fill="#FFFF00"/>
<line x1="577" y1="1127.25" x2="1034.5" y2="1127.25" stroke="#D8D8D8" stroke-width="1"/>
<line x1="580" y1="886.75" x2="580" y2="1127.25" stroke="#D8D8D8" stroke-width="1"/>
<line x1="577" y1="1092.89" x2="580" y2="1092.89" stroke="#D8D8D8" stroke-width="1"/>
<line x1="577" y1="1058.54" x2="580" y2="1058.54" stroke="#D8D8D8" stroke-width="1"/>
<line x1="577" y1="1024.18" x2="580" y2="1024.18" stroke="#D8D8D8" stroke-width="1"/>
<line x1="577" y1="989.82" x2="580" y2="989.82" stroke="#D8D8D8" stroke-width="1"/>
<line x1="577" y1="955.46" x2="580" y2="955.46" stroke="#D8D8D8" stroke-width="1"/>
<line x1="577" y1="921.11" x2="580" y2="921.11" stroke="#D8D8D8" stroke-width="1"/>
<line x1="577" y1="886.75" x2="580" y2="886.75" stroke="#D8D8D8" stroke-width="1"/>
<path d="M580 886.75H1034.5V1127.25" fill="none" stroke="#666666" stroke-width="1.1"/>
<text x="569.7" y="1130.95" font-size="9.9" text-anchor="end">0</text>
<text x="569.7" y="1096.59" font-size="9.9" text-anchor="end">5</text>
<text x="569.7" y="1062.24" font-size="9.9" text-anchor="end">10</text>
<text x="569.7" y="1027.88" font-size="9.9" text-anchor="end">15</text>
<text x="569.7" y="993.52" font-size="9.9" text-anchor="end">20</text>
<text x="569.7" y="959.16" font-size="9.9" text-anchor="end">25</text>
<text x="569.7" y="924.81" font-size="9.9" text-anchor="end">30</text>
<text x="569.7" y="890.45" font-size="9.9" text-anchor="end">35</text>
<text x="598.75" y="1144.1" font-size="11.7" text-anchor="middle">Jan</text>
<text x="636.62" y="1144.1" font-size="11.7" text-anchor="middle">Feb</text>
<text x="674.62" y="1144.1" font-size="11.7" text-anchor="middle">Mar</text>
<text x="712.62" y="1144.1" font-size="11.7" text-anchor="middle">Apr</text>
<text x="749.75" y="1144.1" font-size="11.7" text-anchor="middle">May</text>
<text x="787.62" y="1144.1" font-size="11.7" text-anchor="middle">Jun</text>
<text x="825.75" y="1144.1" font-size="11.7" text-anchor="middle">Jul</text>
<text x="863.5" y="1144.1" font-size="11.7" text-anchor="middle">Aug</text>
<text x="901.62" y="1144.1" font-size="11.7" text-anchor="middle">Sep</text>
<text x="939.5" y="1144.1" font-size="11.7" text-anchor="middle">Oct</text>
<text x="977.38" y="1144.1" font-size="11.7" text-anchor="middle">Nov</text>
<text x="1015.25" y="1144.1" font-size="11.7" text-anchor="middle">Dec</text>
<text x="806.5" y="1162.8" font-size="13.6" text-anchor="middle">Month</text>
<text x="788" y="904" font-size="16.3" font-weight="bold" text-anchor="middle">Yendi</text>
<text transform="translate(539.5 1009.4) rotate(-90)" font-size="11.73" text-anchor="middle" xml:space="preserve">Average Daily  Insolation and Losses (kWh m<tspan font-size="8.4" dy="-4">-2</tspan><tspan dy="4">)</tspan></text>
</g>
<g font-size="18.6" style="font-variant-ligatures:none">
<text x="452.3" y="1194.2" font-size="21.1" font-weight="bold" text-anchor="end">Losses:</text>
<text x="451.6" y="1217.6" font-size="21.1" font-weight="bold" text-anchor="end">Resources:</text>
<rect x="460.5" y="1185.5" width="9.5" height="8.3" fill="#000"/>
<text x="473" y="1195.8">Night losses</text>
<rect x="578.2" y="1185.5" width="9.5" height="8.3" fill="#0BA8EA"/>
<text x="592" y="1195.8">Atm.</text>
<rect x="698.7" y="1185.5" width="8.8" height="8.5" fill="#7030A0"/>
<text x="711.5" y="1195.8">Orient.</text>
<rect x="460.5" y="1207.6" width="9.5" height="8.3" fill="#FF0000"/>
<text x="473" y="1217.6">Beam</text>
<rect x="578.2" y="1207.6" width="9.5" height="8.3" fill="#FFFF00"/>
<text x="592" y="1217.6">Diffuse</text>
</g>
</svg>
</body></html>
